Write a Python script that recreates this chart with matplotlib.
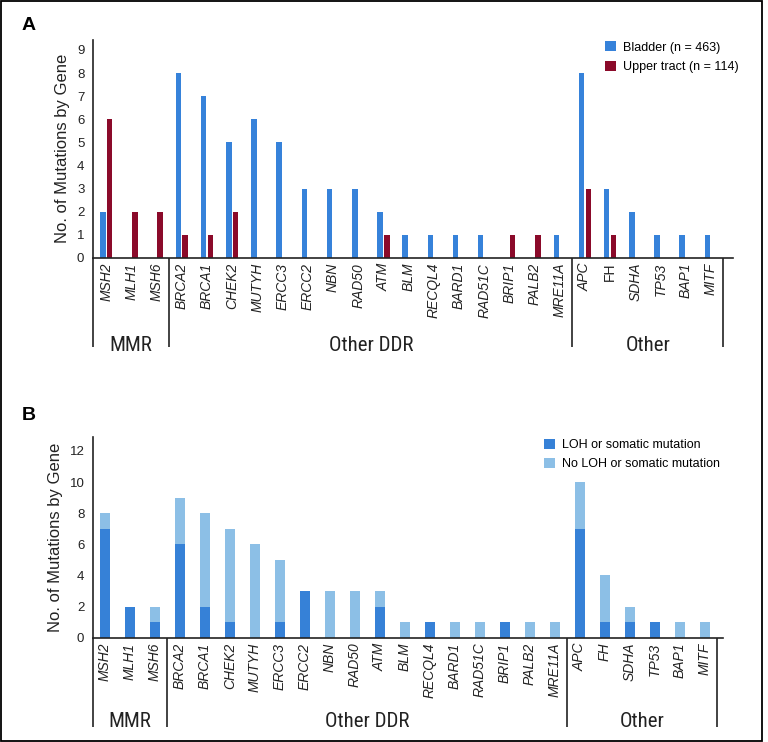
import numpy as np
import matplotlib.pyplot as plt
from matplotlib.patches import Rectangle
from matplotlib.transforms import blended_transform_factory

# ----------------------------------------------------------------------
# DATA
genes = ["MSH2", "MLH1", "MSH6",
         "BRCA2", "BRCA1", "CHEK2", "MUTYH", "ERCC3", "ERCC2", "NBN", "RAD50",
         "ATM", "BLM", "RECQL4", "BARD1", "RAD51C", "BRIP1", "PALB2", "MRE11A",
         "APC", "FH", "SDHA", "TP53", "BAP1", "MITF"]
group_names = ["MMR", "Other DDR", "Other"]
group_sizes = [3, 16, 6]

bladder = [2, 0, 0, 8, 7, 5, 6, 5, 3, 3, 3, 2, 1, 1, 1, 1, 0, 0, 1, 8, 3, 2, 1, 1, 1]
upper_tract = [6, 2, 2, 1, 1, 2, 0, 0, 0, 0, 0, 1, 0, 0, 0, 0, 1, 1, 0, 3, 1, 0, 0, 0, 0]

loh = [7, 2, 1, 6, 2, 1, 0, 1, 3, 0, 0, 2, 0, 1, 0, 0, 1, 0, 0, 7, 1, 1, 1, 0, 0]
no_loh = [1, 0, 1, 3, 6, 6, 6, 4, 0, 3, 3, 1, 1, 0, 1, 1, 0, 1, 1, 3, 3, 1, 0, 1, 1]

legend_a = ["Bladder (n = 463)", "Upper tract (n = 114)"]
legend_b = ["LOH or somatic mutation", "No LOH or somatic mutation"]
yticks_a = list(range(0, 10))
yticks_b = list(range(0, 13, 2))

BLUE = "#3682da"
RED = "#8b0a2a"
DBLUE = "#3681d7"
LBLUE = "#8cbfe6"
INK = "#222222"

FONT = "Liberation Sans"
NARROW = ["Roboto Condensed", "Liberation Sans Narrow", "DejaVu Sans"]
plt.rcParams["font.family"] = FONT

x = np.arange(len(genes))

fig = plt.figure(figsize=(7.68, 7.42), dpi=100)
axA = fig.add_axes([0.1207, 0.6523, 0.8337, 0.2938])
axB = fig.add_axes([0.1207, 0.1406, 0.8207, 0.2705])


def style_axis(ax, yticks, ylim, xlim):
    for s in ["top", "right"]:
        ax.spines[s].set_visible(False)
    for s in ["left", "bottom"]:
        ax.spines[s].set_color(INK)
        ax.spines[s].set_linewidth(1.2)
    ax.set_xlim(*xlim)
    ax.set_ylim(*ylim)
    ax.set_yticks(yticks)
    ax.tick_params(axis="y", length=0, pad=6, labelsize=9.5, labelcolor=INK)
    ax.set_xticks(x)
    ax.set_xticklabels(genes, rotation=90, fontsize=10, style="italic", color=INK)
    ax.tick_params(axis="x", length=0, pad=3.5)
    ax.set_ylabel("No. of Mutations by Gene", fontsize=12, color=INK)


def draw_groups(ax, line_bottom, text_y):
    # bracket lines under the gene labels and the group names
    trans = blended_transform_factory(ax.transData, ax.transAxes)
    bounds = [ax.get_xlim()[0]] + list(np.cumsum(group_sizes) - 0.5)
    for b in bounds:
        ax.plot([b, b], [0, line_bottom], color=INK, lw=1.2, transform=trans,
                clip_on=False, solid_capstyle="butt")
    for i, name in enumerate(group_names):
        cx = (bounds[i] + bounds[i + 1]) / 2
        ax.text(cx, text_y, name, transform=trans, ha="center", va="center",
                fontsize=15, family=NARROW, fontstretch="condensed", color=INK)


# ----------------------------------------------------------------------
# PANEL A
style_axis(axA, yticks_a, (0, 9.43), (-0.54, 24.88))
axA.yaxis.set_label_coords(-0.0355, 0.505)
bA1 = axA.bar(x - 0.135, bladder, width=0.22, color=BLUE)
bA2 = axA.bar(x + 0.135, upper_tract, width=0.22, color=RED)
for lab in axA.get_xticklabels():
    if lab.get_text() == "FH":
        lab.set_style("normal")
draw_groups(axA, -0.408, -0.403)
axA.legend([bA1, bA2], legend_a, loc="upper left",
           bbox_to_anchor=(0.788, 0.9446), bbox_transform=fig.transFigure,
           frameon=False, fontsize=9, handlelength=0.88, handleheight=0.88,
           handletextpad=0.55, labelspacing=0.6, borderpad=0, borderaxespad=0)

# ----------------------------------------------------------------------
# PANEL B
style_axis(axB, yticks_b, (0, 12.9), (-0.49, 24.72))
axB.yaxis.set_label_coords(-0.047, 0.5)
bB1 = axB.bar(x, loh, width=0.4, color=DBLUE)
bB2 = axB.bar(x, no_loh, width=0.4, bottom=loh, color=LBLUE)
draw_groups(axB, -0.443, -0.42)
axB.legend([bB1, bB2], legend_b, loc="upper left",
           bbox_to_anchor=(0.708, 0.4086), bbox_transform=fig.transFigure,
           frameon=False, fontsize=9, handlelength=0.88, handleheight=0.88,
           handletextpad=0.55, labelspacing=0.53, borderpad=0, borderaxespad=0)

# panel letters
fig.text(22 / 768, 1 - 25 / 742, "A", fontsize=14, fontweight="bold", va="center", color="black")
fig.text(22 / 768, 1 - 416 / 742, "B", fontsize=14, fontweight="bold", va="center", color="black")

# outer frame
fig.patches.append(Rectangle((0.6 / 768, 1.2 / 742), 761.5 / 768, 739.8 / 742,
                             transform=fig.transFigure, fill=False,
                             edgecolor="black", lw=1.3))

fig.savefig("out.png", dpi=100)
